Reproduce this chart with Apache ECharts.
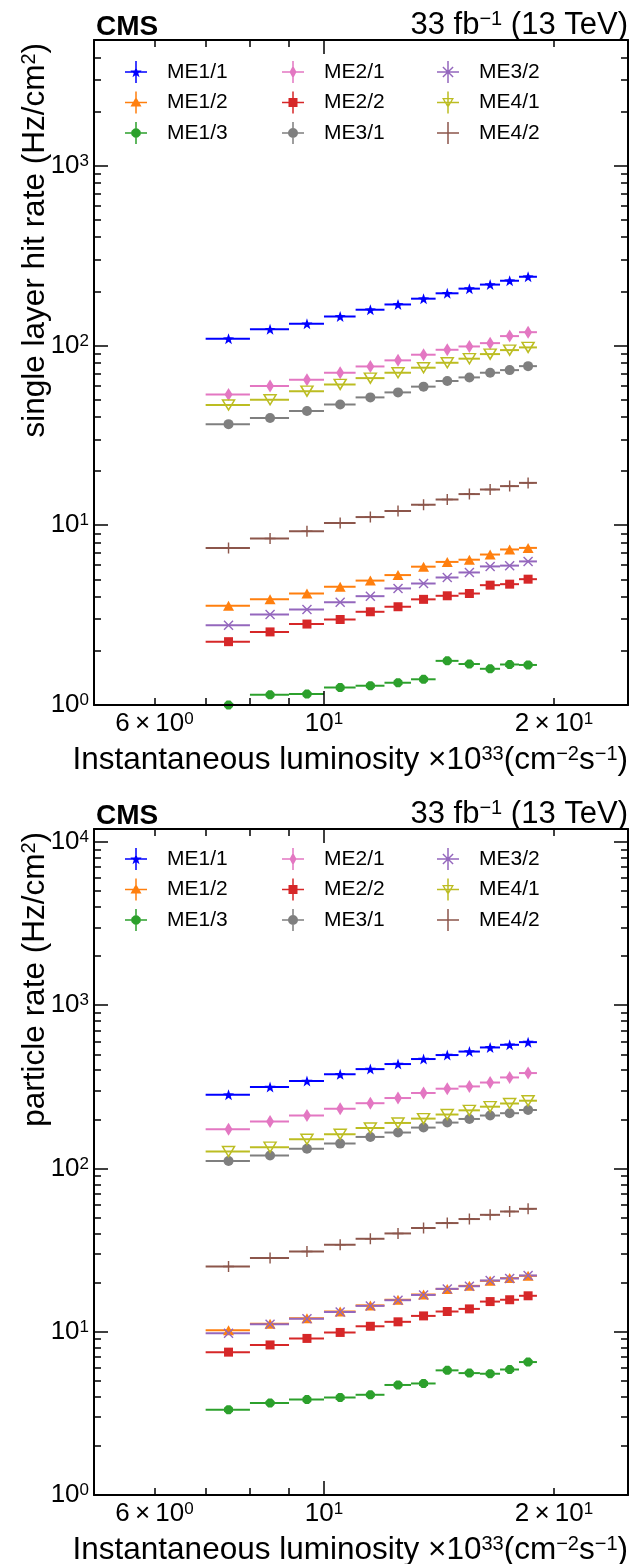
<!DOCTYPE html>
<html>
<head>
<meta charset="utf-8">
<script src="https://cdn.jsdelivr.net/npm/echarts@6/dist/echarts.min.js"></script>
<style>
  html, body { margin: 0; padding: 0; background: #ffffff; }
  #hit { width: 631px; height: 785px; }
  #particle { width: 631px; height: 779px; }
</style>
</head>
<body>
<div id="hit"></div>
<div id="particle"></div>
<script>
// ---- data -------------------------------------------------------------
// instantaneous luminosity bin edges [1e33 cm^-2 s^-1]
const lumiEdges = [7, 8, 9, 10, 11, 12, 13, 14, 15, 16, 17, 18, 19];

const chambers = ['ME1/1', 'ME1/2', 'ME1/3', 'ME2/1', 'ME2/2', 'ME3/1', 'ME3/2', 'ME4/1', 'ME4/2'];

// single layer hit rate [Hz/cm^2]
const hitME11 = [109, 123, 132, 145, 158, 169, 182, 195, 207, 218, 229, 241];
const hitME12 = [3.56, 3.87, 4.17, 4.54, 4.92, 5.28, 5.88, 6.25, 6.43, 6.87, 7.33, 7.48];
const hitME13 = [1.0, 1.14, 1.15, 1.25, 1.28, 1.33, 1.39, 1.76, 1.69, 1.59, 1.68, 1.67];
const hitME21 = [53.4, 59.4, 64.5, 70.5, 76.4, 82.6, 88.8, 94.6, 98.7, 103, 112.7, 118.5];
const hitME22 = [2.25, 2.55, 2.82, 2.99, 3.30, 3.52, 3.87, 4.05, 4.17, 4.64, 4.70, 5.01];
const hitME31 = [36.5, 39.5, 43.2, 46.9, 51.4, 54.8, 59.0, 63.4, 66.4, 70.5, 72.9, 76.7];
const hitME32 = [2.78, 3.19, 3.40, 3.73, 4.03, 4.45, 4.74, 5.12, 5.46, 5.90, 5.96, 6.29];
const hitME41 = [46.6, 49.9, 55.7, 60.7, 65.8, 70.5, 75.2, 80.1, 84.4, 89.5, 94.2, 97.5];
const hitME42 = [7.48, 8.44, 9.26, 10.3, 11.1, 12.0, 13.0, 13.9, 14.9, 15.8, 16.5, 17.2];

// particle rate [Hz/cm^2]
const partME11 = [283, 315, 343, 377, 406, 436, 468, 495, 520, 551, 572, 594];
const partME12 = [10.2, 11.2, 12.1, 13.3, 14.5, 15.7, 16.9, 18.3, 19.1, 20.5, 21.3, 22.0];
const partME13 = [3.33, 3.66, 3.84, 3.96, 4.11, 4.72, 4.82, 5.80, 5.58, 5.53, 5.87, 6.52];
const partME21 = [174, 194, 211, 232, 251, 270, 290, 308, 318, 336, 361, 384];
const partME22 = [7.5, 8.3, 9.1, 9.9, 10.8, 11.5, 12.5, 13.3, 13.8, 15.3, 15.7, 16.6];
const partME31 = [111, 120, 132, 142, 156, 166, 178, 191, 201, 211, 218, 228];
const partME32 = [9.8, 11.1, 12.0, 13.2, 14.4, 15.6, 16.8, 18.3, 19.0, 20.6, 21.2, 22.1];
const partME41 = [127, 135, 151, 162, 177, 190, 202, 214, 227, 239, 250, 260];
const partME42 = [25.1, 28.3, 31.0, 34.1, 37.1, 40.0, 43.2, 46.3, 49.0, 52.0, 54.5, 56.6];

// axis ticks
const xRange = [5, 25];
const xTicksMajor = [10];
const xTicksMinor = [6, 7, 8, 9, 20];
const xTickLabels = [6, 10, 20];

const hitRange = [1, 5000];
const hitTicksMajor = [1, 10, 100, 1000];
const hitTicksMinor = [2, 3, 4, 5, 6, 7, 8, 9, 20, 30, 40, 50, 60, 70, 80, 90,
                       200, 300, 400, 500, 600, 700, 800, 900, 2000, 3000, 4000];

const partRange = [1, 12000];
const partTicksMajor = [1, 10, 100, 1000, 10000];
const partTicksMinor = [2, 3, 4, 5, 6, 7, 8, 9, 20, 30, 40, 50, 60, 70, 80, 90,
                        200, 300, 400, 500, 600, 700, 800, 900,
                        2000, 3000, 4000, 5000, 6000, 7000, 8000, 9000];

// ---- marker geometry ----------------------------------------------------
function polyPath(pts) {
  return pts.map((p, i) => (i ? 'L' : 'M') + p[0].toFixed(2) + ',' + p[1].toFixed(2)).join(' ') + ' Z';
}
function starPts(cx, cy, R, r) {
  const pts = [];
  for (let k = 0; k < 10; k++) {
    const a = -Math.PI / 2 + k * Math.PI / 5;
    const rr = k % 2 ? r : R;
    pts.push([cx + rr * Math.cos(a), cy + rr * Math.sin(a)]);
  }
  return pts;
}
function ngonPts(cx, cy, R, n, a0) {
  const pts = [];
  for (let k = 0; k < n; k++) {
    const a = a0 + k * 2 * Math.PI / n;
    pts.push([cx + R * Math.cos(a), cy + R * Math.sin(a)]);
  }
  return pts;
}
const X_SHAPE = 'M-100,-80 L-80,-100 L0,-20 L80,-100 L100,-80 L20,0 L100,80 L80,100 L0,20 L-80,100 L-100,80 L-20,0 Z';
const PLUS_SHAPE = 'M-13,-100 H13 V-13 H100 V13 H13 V100 H-13 V13 H-100 V-13 H-13 Z';

// legend handles: errorbar cross (22 x 22) with the marker on top
const CROSS = 'M0,10.25 H22 V11.75 H0 Z M10.25,0 H11.75 V22 H10.25 Z ';
const LEGEND_MARK = {
  'ME1/1': polyPath(starPts(11, 11.4, 6, 2.4)),
  'ME1/2': 'M11,5.5 L16.5,15 L5.5,15 Z',
  'ME1/3': polyPath(ngonPts(11, 11, 5, 8, Math.PI / 8)),
  'ME2/1': 'M11,4.5 L14.5,11 L11,17.5 L7.5,11 Z',
  'ME2/2': 'M6.5,6.5 H15.5 V15.5 H6.5 Z',
  'ME3/1': 'M6,11 A5,5 0 1 1 16,11 A5,5 0 1 1 6,11 Z',
  'ME3/2': 'M6.4,5.4 L16.6,15.6 L15.6,16.6 L5.4,6.4 Z M15.6,5.4 L16.6,6.4 L6.4,16.6 L5.4,15.6 Z',
  'ME4/1': 'M5,6.5 L17,6.5 L11,16.5 Z M7.29,7.8 L11,13.98 L14.71,7.8 Z',
  'ME4/2': ''
};

const STYLE = {
  'ME1/1': { color: '#0000ff', symbol: 'path://' + polyPath(starPts(0, 0, 100, 40)), size: [11, 11] },
  'ME1/2': { color: '#ff7f0e', symbol: 'triangle', size: [11, 10] },
  'ME1/3': { color: '#2ca02c', symbol: 'path://' + polyPath(ngonPts(0, 0, 100, 8, Math.PI / 8)), size: [9, 9] },
  'ME2/1': { color: '#e377c2', symbol: 'diamond', size: [8, 13] },
  'ME2/2': { color: '#d62728', symbol: 'rect', size: [9, 9] },
  'ME3/1': { color: '#7f7f7f', symbol: 'circle', size: [10, 10] },
  'ME3/2': { color: '#9467bd', symbol: 'path://' + X_SHAPE, size: [10, 10] },
  'ME4/1': { color: '#bcbd22', symbol: 'triangle', size: [12, 10], rotate: 180, hollow: true },
  'ME4/2': { color: '#8c564b', symbol: 'path://' + PLUS_SHAPE, size: [11, 11] }
};

const FONT = '"Liberation Sans", Arial, Helvetica, sans-serif';
const SUP = { fontSize: 17, fontFamily: FONT, color: '#000', verticalAlign: 'top' };
const BASE = { fontSize: 26, fontFamily: FONT, color: '#000' };
const TITLE = { fontSize: 31.5, fontFamily: FONT, color: '#000' };
const TITLE_SUP = { fontSize: 20, fontFamily: FONT, color: '#000', verticalAlign: 'top' };

function sciLabel(v) {
  const e = Math.floor(Math.log10(v) + 1e-9);
  const m = Math.round(v / Math.pow(10, e));
  return (m === 1 ? '' : '{b|' + m + '\u2009\u00d7\u2009}') + '{b|10}{s|' + e + '}';
}

function errRender(params, api) {
  const y = api.value(2);
  const p0 = api.coord([api.value(0), y]);
  const p1 = api.coord([api.value(1), y]);
  return {
    type: 'line',
    shape: { x1: p0[0], y1: p0[1], x2: p1[0], y2: p1[1] },
    style: { stroke: api.visual('color'), lineWidth: 2 }
  };
}

function xAxisDef(position, ticks, len, labels, line) {
  return {
    type: 'log', logBase: 10, min: xRange[0], max: xRange[1], position: position,
    z: 10,
    axisLine: { show: line, onZero: false, lineStyle: { color: '#000', width: 2 } },
    axisTick: { show: true, inside: true, length: len, customValues: ticks,
                lineStyle: { color: '#000', width: 1.5 } },
    axisLabel: labels ? {
      show: true, customValues: xTickLabels, margin: 6,
      formatter: sciLabel, rich: { b: BASE, s: SUP }
    } : { show: false },
    splitLine: { show: false }
  };
}
function yAxisDef(position, range, ticks, len, labels, line) {
  return {
    type: 'log', logBase: 10, min: range[0], max: range[1], position: position,
    z: 10,
    axisLine: { show: line, onZero: false, lineStyle: { color: '#000', width: 2 } },
    axisTick: { show: true, inside: true, length: len, customValues: ticks,
                lineStyle: { color: '#000', width: 1.5 } },
    axisLabel: labels ? {
      show: true, customValues: labels, margin: 5,
      formatter: sciLabel, rich: { b: BASE, s: SUP }
    } : { show: false },
    splitLine: { show: false }
  };
}

function legendColumn(names, left, top) {
  return {
    orient: 'vertical', left: left, top: top,
    itemWidth: 22, itemHeight: 22, itemGap: 8.5,
    selectedMode: false,
    textStyle: { fontSize: 21, fontFamily: FONT, color: '#000', padding: [0, 0, 0, 15] },
    data: names.map(n => ({
      name: n,
      icon: 'path://' + CROSS + LEGEND_MARK[n],
      itemStyle: { color: STYLE[n].color, borderWidth: 0, opacity: 1 }
    }))
  };
}

function buildOption(cfg) {
  const series = [];
  const centers = lumiEdges.slice(0, -1).map((e, k) => (e + lumiEdges[k + 1]) / 2);
  chambers.forEach((name, i) => {
    const st = STYLE[name];
    const vals = cfg.values[i];
    series.push({
      type: 'custom', name: name, z: 2,
      data: vals.map((v, k) => [lumiEdges[k], lumiEdges[k + 1], v]),
      encode: { x: [0, 1], y: 2 },
      itemStyle: { color: st.color },
      renderItem: errRender
    });
    series.push({
      type: 'scatter', name: name, z: 3,
      data: vals.map((v, k) => [centers[k], v]),
      symbol: st.symbol, symbolSize: st.size, symbolRotate: st.rotate || 0,
      itemStyle: st.hollow
        ? { color: 'rgba(255,255,255,0)', borderColor: st.color, borderWidth: 1.5, opacity: 1 }
        : { color: st.color, opacity: 1 },
      emphasis: { disabled: true }
    });
  });

  const axisBottom = cfg.gridTop + cfg.gridHeight;
  return {
    animation: false,
    backgroundColor: '#ffffff',
    grid: { left: 94, top: cfg.gridTop, width: 534, height: cfg.gridHeight },
    xAxis: [
      xAxisDef('bottom', xTicksMajor, 14, true, true),
      xAxisDef('bottom', xTicksMinor, 7, false, false),
      xAxisDef('top', xTicksMajor, 14, false, true),
      xAxisDef('top', xTicksMinor, 7, false, false)
    ],
    yAxis: [
      yAxisDef('left', cfg.range, cfg.major, 14, cfg.major, true),
      yAxisDef('left', cfg.range, cfg.minor, 7, null, false),
      yAxisDef('right', cfg.range, cfg.major, 14, null, true),
      yAxisDef('right', cfg.range, cfg.minor, 7, null, false)
    ],
    legend: [
      legendColumn(chambers.slice(0, 3), 120, cfg.legendTop),
      legendColumn(chambers.slice(3, 6), 277, cfg.legendTop),
      legendColumn(chambers.slice(6, 9), 432, cfg.legendTop)
    ],
    graphic: [
      { type: 'text', x: 96, y: cfg.gridTop - 13,
        style: { text: 'CMS', fontSize: 28, fontWeight: 'bold', fontFamily: FONT,
                 fill: '#000', align: 'left', verticalAlign: 'middle' } },
      { type: 'text', x: 628, y: cfg.gridTop - 15,
        style: { text: '{n|33 fb}{s|\u22121}{n| (13 TeV)}', align: 'right', verticalAlign: 'middle',
                 rich: { n: { fontSize: 31, fontFamily: FONT, color: '#000' },
                         s: { fontSize: 20, fontFamily: FONT, color: '#000', verticalAlign: 'top' } } } },
      { type: 'text', x: 628, y: axisBottom + 55,
        style: { text: '{n|Instantaneous luminosity \u00d710}{s|33}{n|(cm}{s|\u22122}{n|s}{s|\u22121}{n|)}',
                 align: 'right', verticalAlign: 'middle',
                 rich: { n: TITLE, s: TITLE_SUP } } },
      { type: 'text', x: 35, y: cfg.gridTop + 3, rotation: Math.PI / 2,
        style: { text: '{n|' + cfg.yTitle + ' (Hz/cm}{s|2}{n|)}',
                 align: 'right', verticalAlign: 'middle',
                 rich: { n: TITLE, s: TITLE_SUP } } }
    ],
    series: series
  };
}

const hitChart = echarts.init(document.getElementById('hit'), null, { renderer: 'canvas' });
hitChart.setOption(buildOption({
  gridTop: 40, gridHeight: 665, legendTop: 56,
  range: hitRange, major: hitTicksMajor, minor: hitTicksMinor,
  yTitle: 'single layer hit rate',
  values: [hitME11, hitME12, hitME13, hitME21, hitME22, hitME31, hitME32, hitME41, hitME42]
}));

const partChart = echarts.init(document.getElementById('particle'), null, { renderer: 'canvas' });
partChart.setOption(buildOption({
  gridTop: 44, gridHeight: 666, legendTop: 58,
  range: partRange, major: partTicksMajor, minor: partTicksMinor,
  yTitle: 'particle rate',
  values: [partME11, partME12, partME13, partME21, partME22, partME31, partME32, partME41, partME42]
}));
</script>
</body>
</html>
